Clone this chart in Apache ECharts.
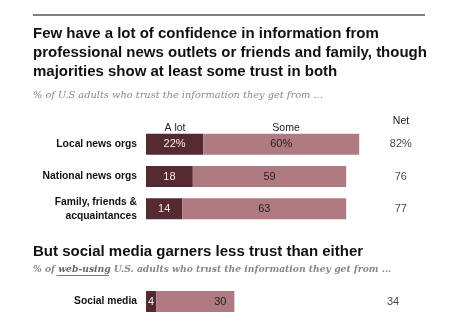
<!DOCTYPE html>
<html>
<head>
<meta charset="utf-8">
<script src="https://cdn.jsdelivr.net/npm/echarts@6/dist/echarts.min.js"></script>
<style>
  html, body { margin: 0; padding: 0; background: #fff; }
  #chart { width: 474px; height: 329px; }
</style>
</head>
<body>
<div id="chart"></div>
<script>
// Trust in information sources, % of U.S. adults
const categories = ['Local news orgs', 'National news orgs', 'Family, friends &\nacquaintances'];
const aLot = [22, 18, 14];
const some = [60, 59, 63];
const net = [82, 76, 77];

// Social media, % of web-using U.S. adults
const socialCategories = ['Social media'];
const socialALot = [4];
const socialSome = [30];
const socialNet = [34];

const DARK = '#54292f';
const LIGHT = '#b07a82';
const SANS = 'Liberation Sans, Arial, sans-serif';
const SERIF = 'DejaVu Serif, Georgia, serif';
const NET_POS = 98;   // x-axis position of the "Net" column
const SOCIAL_NET_POS = 95;
const SUB2_SIZE = 9.2;

const chart = echarts.init(document.getElementById('chart'), null, { renderer: 'canvas' });

// Width of a text run, used to place the underline under the emphasised word
const measureCtx = document.createElement('canvas').getContext('2d');
function textWidth(str, font) { measureCtx.font = font; return measureCtx.measureText(str).width; }
const ulStart = 33 + textWidth('% of ', 'italic ' + SUB2_SIZE + 'px ' + SERIF);
const ulEnd = ulStart + textWidth('web-using', 'italic bold ' + SUB2_SIZE + 'px ' + SERIF);

function pct(first) {
  return function (p) { return p.dataIndex === 0 && first ? p.value + '%' : String(p.value); };
}

const catAxis = (gridIndex, data) => ({
  type: 'category', gridIndex, data, inverse: true,
  axisLine: { show: false }, axisTick: { show: false },
  axisLabel: {
    margin: 9, color: '#111', fontFamily: SANS, fontWeight: 'bold', fontSize: 10.3,
    lineHeight: 14, align: 'right'
  }
});
const valAxis = (gridIndex) => ({
  type: 'value', gridIndex, min: 0, max: 100, show: false, splitLine: { show: false }
});

const hidden = { color: 'rgba(0,0,0,0)' };

chart.setOption({
  animation: false,
  backgroundColor: '#fff',
  title: [
    {
      text: 'Few have a lot of confidence in information from\nprofessional news outlets or friends and family, though\nmajorities show at least some trust in both',
      left: 33, top: 24, padding: 0,
      textStyle: { fontFamily: SANS, fontWeight: 'bold', fontSize: 15, lineHeight: 19, color: '#111' }
    },
    {
      text: '% of U.S adults who trust the information they get from ...',
      left: 33, top: 90, padding: 0,
      textStyle: { fontFamily: SERIF, fontStyle: 'italic', fontWeight: 'normal', fontSize: 9.8, color: '#888' }
    },
    {
      text: 'But social media garners less trust than either',
      left: 33, top: 244, padding: 0,
      textStyle: { fontFamily: SANS, fontWeight: 'bold', fontSize: 15, color: '#111' }
    },
    {
      text: '{a|% of }{b|web-using}{a| U.S. adults who trust the information they get from ...}',
      left: 33, top: 265, padding: 0,
      textStyle: {
        rich: {
          a: { fontFamily: SERIF, fontStyle: 'italic', fontSize: SUB2_SIZE, color: '#888' },
          b: { fontFamily: SERIF, fontStyle: 'italic', fontWeight: 'bold', fontSize: SUB2_SIZE, color: '#666' }
        }
      }
    }
  ],
  graphic: [
    { type: 'line', shape: { x1: 33, y1: 15, x2: 425, y2: 15 }, style: { stroke: '#555', lineWidth: 1.5 } },
    { type: 'line', shape: { x1: ulStart, y1: 275.5, x2: ulEnd, y2: 275.5 }, style: { stroke: '#777', lineWidth: 1 } },
    { type: 'text', x: 175, y: 128, style: { text: 'A lot', fontFamily: SANS, fontSize: 10.5, fill: '#222', align: 'center', verticalAlign: 'middle' } },
    { type: 'text', x: 286, y: 128, style: { text: 'Some', fontFamily: SANS, fontSize: 10.5, fill: '#222', align: 'center', verticalAlign: 'middle' } },
    { type: 'text', x: 401, y: 121, style: { text: 'Net', fontFamily: SANS, fontSize: 10.5, fill: '#222', align: 'center', verticalAlign: 'middle' } }
  ],
  grid: [
    { left: 146, width: 260, top: 128, height: 97 },
    { left: 146, width: 260, top: 291, height: 21 }
  ],
  xAxis: [valAxis(0), valAxis(1)],
  yAxis: [catAxis(0, categories), catAxis(1, socialCategories)],
  series: [
    {
      type: 'bar', xAxisIndex: 0, yAxisIndex: 0, stack: 'main', barWidth: 21,
      data: aLot, itemStyle: { color: DARK },
      label: { show: true, position: 'inside', color: '#f2eaea', fontFamily: SANS, fontSize: 11, formatter: pct(true) }
    },
    {
      type: 'bar', xAxisIndex: 0, yAxisIndex: 0, stack: 'main', barWidth: 21,
      data: some, itemStyle: { color: LIGHT },
      label: { show: true, position: 'inside', color: '#222', fontFamily: SANS, fontSize: 11, formatter: pct(true) }
    },
    {
      type: 'scatter', xAxisIndex: 0, yAxisIndex: 0, symbolSize: 1, itemStyle: hidden,
      data: net.map((v, i) => ({ value: [NET_POS, i], net: v })),
      label: {
        show: true, position: 'inside', color: '#111', fontFamily: SANS, fontSize: 11,
        formatter: (p) => p.dataIndex === 0 ? p.data.net + '%' : String(p.data.net)
      }
    },
    {
      type: 'bar', xAxisIndex: 1, yAxisIndex: 1, stack: 'social', barWidth: 21,
      data: socialALot, itemStyle: { color: DARK },
      label: { show: true, position: 'insideLeft', distance: 2, color: '#f2eaea', fontFamily: SANS, fontSize: 11 }
    },
    {
      type: 'bar', xAxisIndex: 1, yAxisIndex: 1, stack: 'social', barWidth: 21,
      data: socialSome, itemStyle: { color: LIGHT },
      label: { show: true, position: 'insideRight', distance: 8, color: '#222', fontFamily: SANS, fontSize: 11 }
    },
    {
      type: 'scatter', xAxisIndex: 1, yAxisIndex: 1, symbolSize: 1, itemStyle: hidden,
      data: socialNet.map((v, i) => ({ value: [SOCIAL_NET_POS, i], net: v })),
      label: { show: true, position: 'inside', color: '#111', fontFamily: SANS, fontSize: 11, formatter: (p) => String(p.data.net) }
    }
  ]
});
</script>
</body>
</html>
